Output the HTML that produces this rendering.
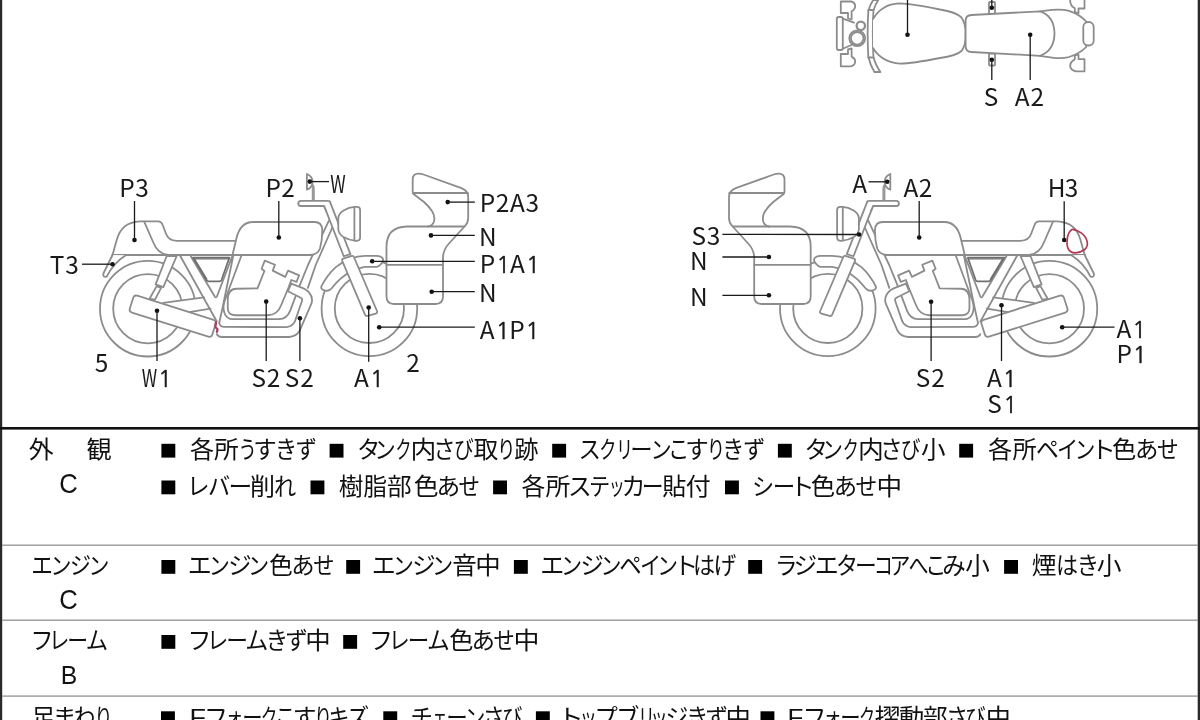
<!DOCTYPE html>
<html lang="ja"><head><meta charset="utf-8"><title>車両状態図</title>
<style>
html,body{margin:0;padding:0;background:#fff;width:1200px;height:720px;overflow:hidden}
svg{position:absolute;left:0;top:0;display:block}
.tbl,.lbl{filter:grayscale(1)}
.tbl text{font-family:"Liberation Sans","Noto Sans CJK JP",sans-serif;font-size:24px;fill:#111}
.lbl text{font-family:"Noto Sans CJK JP","Liberation Sans",sans-serif;font-size:24.4px;fill:#1a1a1a}
.lbl .one{font-family:"NanumGothic","Liberation Sans",sans-serif;font-size:23.2px;stroke:#1a1a1a;stroke-width:.45px}
</style></head><body>
<svg width="1200" height="720" viewBox="0 0 1200 720">
<rect width="1200" height="720" fill="#fff"/>
<!-- sheet borders and table rules -->
<rect x="0" y="0" width="2.2" height="720" fill="#2a2a2a"/>
<rect x="1197.7" y="0" width="2.3" height="720" fill="#2a2a2a"/>
<rect x="0" y="427" width="1200" height="2.6" fill="#111"/>
<rect x="2" y="544.5" width="1196" height="1.4" fill="#9a9a9a"/>
<rect x="2" y="619.5" width="1196" height="1.4" fill="#9a9a9a"/>
<rect x="2" y="695.4" width="1196" height="1.4" fill="#9a9a9a"/>
<!-- vehicle diagrams -->
<g fill="none" stroke="#8c8c8c" stroke-width="1.8" stroke-linejoin="round" stroke-linecap="round">
<circle cx="147.8" cy="308.7" r="47.8"/><circle cx="147.8" cy="308.7" r="34.6"/>
<circle cx="369.4" cy="308.4" r="47.8"/><circle cx="369.4" cy="308.4" r="34.6"/>
<path fill="#fff" stroke="none" d="M163.3,302.9 L204,297.3 L218,322 L163.3,304.5 Z"/>
<path d="M163.3,302.9 L204,297.3 M189.2,312.1 L210.5,308.7"/>
<path fill="#fff" d="M156.7,286.1 L161.1,287.8 L155,299.6 L149.4,299 Z"/>
<path fill="#fff" d="M166.7,256 L176.7,256 L163.3,287.2 L155.6,284.4 Z"/>
<rect fill="#fff" x="0" y="0" width="86.5" height="17.7" rx="3.2" transform="translate(134.2,294.7) rotate(17.55)"/>
<path d="M241.25,256 L224.6,301 Q222.5,308 224.5,313 Q226.5,319.2 233,319.2 L279,319.2 Q287,318.7 290.1,310.8 L295.5,296.6"/>
<path fill="#fff" stroke="none" d="M219.2,323.3 Q220.5,326.9 224,326.9 L286.6,327.1 Q292.5,326.5 294.9,321.4 L301.9,301.3 Q302.8,298.6 300.8,297.8 L287.8,291.3 L291.3,283.6 L303.5,288.4 Q306.5,289.6 308.8,292.2 Q313.5,297.5 311.4,303.7 L299.6,330.8 Q296.5,336.5 289,337 L222,337 Q218,337 216.9,334.2 Z"/>
<path d="M219.2,323.3 Q220.5,326.9 224,326.9 L286.6,327.1 Q292.5,326.5 294.9,321.4 L301.9,301.3 Q302.8,298.6 300.8,297.8 L287.8,291.3"/><path d="M216.9,334.2 Q218,337 222,337 L289,337 Q296.5,336.5 299.6,330.8 L311.4,303.7 Q313.5,297.5 308.8,292.2 Q306.5,289.6 303.5,288.4 L291.3,283.6"/><path d="M291.3,283.6 L287.8,291.3"/>
<path d="M227.75,300 Q227.75,289 236.25,288.75 L257.5,288.4 L264.4,271 L261.6,268.75 L264.75,260.6 L275,264.75 L272.75,270.6 L285.25,276.9 L288.1,270.6 L299.1,275.4 L296.5,281.9 L291.25,280 L288.5,287.5 L281.25,305 Q277.5,315 268,315.25 L235,315.25 Q227.75,315 227.75,308 Z"/>
<path d="M180,255.5 L216.8,321.5 M190.8,256.3 L214.6,296.3 Q215.8,298.6 217,296.3 L232.5,255.5 M233.3,255.5 L222.5,308 L219.3,322.5"/>
<path stroke="#707070" stroke-width="1.7" d="M193,257.6 L229.4,257.6 L221.5,280 Q221,281.3 219.5,281.3 L208.5,281.3 Q207.2,281.3 206.5,280 Z"/>
<path stroke="#707070" stroke-width="1.3" d="M194.5,258.9 L228,258.9 M194.6,259.2 L206.8,279"/>
<path d="M328.9,220.6 L308,265 L299.6,285.6 M333,226 L315.7,265 L307.9,287.9"/>
<path d="M112.5,255 L312,255"/>
<path fill="#fff" d="M232.5,255 L236.5,238 Q240.5,222 253,222 L314.5,222 Q322,222 322.3,230 Q322.3,240 320,248.5 Q317.5,255 309,255 Z"/>
<path d="M112.5,255 L116.7,240 Q121.5,222 140,221.3 L158.3,221.3 Q161.6,221.5 162.7,225 L165.8,233.3 Q168.3,240.8 176.7,240.8 L235.6,240.8"/>
<path d="M144.2,221.7 L153.3,242.5 Q157.5,253.5 168,255"/>
<path fill="#fff" d="M112.5,255 L103.4,273.5 Q102.6,277.6 106.7,276.7 Q113.5,263 125.8,255.3"/>
<path fill="#fff" d="M321.25,286.7 Q327,275 335.8,267.1 Q350,256 365,255.8 L376.7,255.8 Q381,256 382.7,258.2 Q384,261 381,264 Q379,266.6 376.7,266.8 L365,266.8 Q352,268.5 340,279.2 Q335,284 331.7,288.3 Q329.5,291.3 325.5,290.6 Q320.5,289.5 321.25,286.7 Z"/>
<path fill="#fff" d="M324.4,206.7 L343.75,256.25 L350.4,254.2 L329.8,201.4 Z"/>
<path fill="#fff" d="M329.8,201.4 Q329,200.8 327,200.8 L301,200.8 Q298.3,200.8 298.3,203.4 Q298.3,206 301,206 L324.2,206 L326,210.5"/>
<path stroke="#999" stroke-width="3" stroke-linecap="butt" d="M313.3,200.3 L313.3,188 Q313.2,186 311.8,185"/>
<path d="M306.9,174 Q312.6,176.5 312.6,182 Q312.4,187.8 306.9,189.6 Z"/>
<path fill="#fff" d="M343.2,258.7 L351.8,255.9 Q353.3,255.5 353.9,257 L377,311 Q377.8,313 375.8,313.6 L367.6,315.9 Q365.8,316.4 365,314.6 L342.2,260.8 Q341.6,259.3 343.2,258.7 Z"/>
<path fill="#fff" d="M338.3,218 Q338.8,213.5 343.5,210.5 Q349,207.2 354.6,206.9 L357,206.8 Q360.1,206.8 360.1,209.9 L360.1,237.6 Q360.1,240.8 357,240.8 L354.6,240.6 Q349,240.2 343.5,237 Q338.8,234 338.3,229.5 Z"/>
<path d="M354.4,206.9 L354.4,240.6"/>
<path fill="#fff" d="M412.7,179.5 Q412.7,173.6 418.5,173.6 Q421,173.6 423.5,174.5 L461.5,188.2 Q468.2,190.8 468.2,197 L468.2,218 Q468.2,222.5 465,226 L449,243.5 Q443,250 443,258 L443,296.5 Q443,304 435.5,304 L394,304 Q386.5,304 386.5,296.5 L386.5,246.5 Q386.5,227 407,226.5 L428,226.5 Q432.5,226 434,221.5 Q435.3,216 432,211 Q429,206.5 424,202 L413.5,194 Q412.7,193 412.7,191 Z"/>
<path d="M413,193 L468,193 M428,226.5 L464.5,226.5 M386.5,264.8 L443,264.8"/>
</g>
<g fill="none" stroke="#8c8c8c" stroke-width="1.8" stroke-linejoin="round" stroke-linecap="round" transform="translate(1197.2,0) scale(-1,1)">
<circle cx="147.8" cy="308.7" r="47.8"/><circle cx="147.8" cy="308.7" r="34.6"/>
<circle cx="369.4" cy="308.4" r="47.8"/><circle cx="369.4" cy="308.4" r="34.6"/>
<path fill="#fff" stroke="none" d="M163.3,302.9 L204,297.3 L218,322 L163.3,304.5 Z"/>
<path d="M163.3,302.9 L204,297.3 M189.2,312.1 L210.5,308.7"/>
<path fill="#fff" d="M156.7,286.1 L161.1,287.8 L155,299.6 L149.4,299 Z"/>
<path fill="#fff" d="M166.7,256 L176.7,256 L163.3,287.2 L155.6,284.4 Z"/>
<rect fill="#fff" x="0" y="0" width="86.5" height="17.7" rx="3.2" transform="translate(134.2,294.7) rotate(17.55)"/>
<path d="M241.25,256 L224.6,301 Q222.5,308 224.5,313 Q226.5,319.2 233,319.2 L279,319.2 Q287,318.7 290.1,310.8 L295.5,296.6"/>
<path fill="#fff" stroke="none" d="M219.2,323.3 Q220.5,326.9 224,326.9 L286.6,327.1 Q292.5,326.5 294.9,321.4 L301.9,301.3 Q302.8,298.6 300.8,297.8 L287.8,291.3 L291.3,283.6 L303.5,288.4 Q306.5,289.6 308.8,292.2 Q313.5,297.5 311.4,303.7 L299.6,330.8 Q296.5,336.5 289,337 L222,337 Q218,337 216.9,334.2 Z"/>
<path d="M219.2,323.3 Q220.5,326.9 224,326.9 L286.6,327.1 Q292.5,326.5 294.9,321.4 L301.9,301.3 Q302.8,298.6 300.8,297.8 L287.8,291.3"/><path d="M216.9,334.2 Q218,337 222,337 L289,337 Q296.5,336.5 299.6,330.8 L311.4,303.7 Q313.5,297.5 308.8,292.2 Q306.5,289.6 303.5,288.4 L291.3,283.6"/><path d="M291.3,283.6 L287.8,291.3"/>
<path d="M227.75,300 Q227.75,289 236.25,288.75 L257.5,288.4 L264.4,271 L261.6,268.75 L264.75,260.6 L275,264.75 L272.75,270.6 L285.25,276.9 L288.1,270.6 L299.1,275.4 L296.5,281.9 L291.25,280 L288.5,287.5 L281.25,305 Q277.5,315 268,315.25 L235,315.25 Q227.75,315 227.75,308 Z"/>
<path d="M180,255.5 L216.8,321.5 M190.8,256.3 L214.6,296.3 Q215.8,298.6 217,296.3 L232.5,255.5 M233.3,255.5 L222.5,308 L219.3,322.5"/>
<path stroke="#707070" stroke-width="1.7" d="M193,257.6 L229.4,257.6 L221.5,280 Q221,281.3 219.5,281.3 L208.5,281.3 Q207.2,281.3 206.5,280 Z"/>
<path stroke="#707070" stroke-width="1.3" d="M194.5,258.9 L228,258.9 M194.6,259.2 L206.8,279"/>
<path d="M328.9,220.6 L308,265 L299.6,285.6 M333,226 L315.7,265 L307.9,287.9"/>
<path d="M112.5,255 L312,255"/>
<path fill="#fff" d="M232.5,255 L236.5,238 Q240.5,222 253,222 L314.5,222 Q322,222 322.3,230 Q322.3,240 320,248.5 Q317.5,255 309,255 Z"/>
<path d="M112.5,255 L116.7,240 Q121.5,222 140,221.3 L158.3,221.3 Q161.6,221.5 162.7,225 L165.8,233.3 Q168.3,240.8 176.7,240.8 L235.6,240.8"/>
<path d="M144.2,221.7 L153.3,242.5 Q157.5,253.5 168,255"/>
<path fill="#fff" d="M112.5,255 L103.4,273.5 Q102.6,277.6 106.7,276.7 Q113.5,263 125.8,255.3"/>
<path fill="#fff" d="M321.25,286.7 Q327,275 335.8,267.1 Q350,256 365,255.8 L376.7,255.8 Q381,256 382.7,258.2 Q384,261 381,264 Q379,266.6 376.7,266.8 L365,266.8 Q352,268.5 340,279.2 Q335,284 331.7,288.3 Q329.5,291.3 325.5,290.6 Q320.5,289.5 321.25,286.7 Z"/>
<path fill="#fff" d="M324.4,206.7 L343.75,256.25 L350.4,254.2 L329.8,201.4 Z"/>
<path fill="#fff" d="M329.8,201.4 Q329,200.8 327,200.8 L301,200.8 Q298.3,200.8 298.3,203.4 Q298.3,206 301,206 L324.2,206 L326,210.5"/>
<path stroke="#999" stroke-width="3" stroke-linecap="butt" d="M313.3,200.3 L313.3,188 Q313.2,186 311.8,185"/>
<path d="M306.9,174 Q312.6,176.5 312.6,182 Q312.4,187.8 306.9,189.6 Z"/>
<path fill="#fff" d="M343.2,258.7 L351.8,255.9 Q353.3,255.5 353.9,257 L377,311 Q377.8,313 375.8,313.6 L367.6,315.9 Q365.8,316.4 365,314.6 L342.2,260.8 Q341.6,259.3 343.2,258.7 Z"/>
<path fill="#fff" d="M338.3,218 Q338.8,213.5 343.5,210.5 Q349,207.2 354.6,206.9 L357,206.8 Q360.1,206.8 360.1,209.9 L360.1,237.6 Q360.1,240.8 357,240.8 L354.6,240.6 Q349,240.2 343.5,237 Q338.8,234 338.3,229.5 Z"/>
<path d="M354.4,206.9 L354.4,240.6"/>
<path fill="#fff" d="M412.7,179.5 Q412.7,173.6 418.5,173.6 Q421,173.6 423.5,174.5 L461.5,188.2 Q468.2,190.8 468.2,197 L468.2,218 Q468.2,222.5 465,226 L449,243.5 Q443,250 443,258 L443,296.5 Q443,304 435.5,304 L394,304 Q386.5,304 386.5,296.5 L386.5,246.5 Q386.5,227 407,226.5 L428,226.5 Q432.5,226 434,221.5 Q435.3,216 432,211 Q429,206.5 424,202 L413.5,194 Q412.7,193 412.7,191 Z"/>
<path d="M413,193 L468,193 M428,226.5 L464.5,226.5 M386.5,264.8 L443,264.8"/>
</g>
<g fill="none" stroke="#8c8c8c" stroke-width="1.8" stroke-linejoin="round" stroke-linecap="round">
<path fill="#fff" d="M840.8,13 L840.8,1.5 L851,1.5 Q855.3,2.5 855.2,6.5 Q855,9.5 851.6,11.2 L851.6,19.5 L848,18.5 L848,13 Z"/>
<path fill="#fff" d="M840.8,54 L840.8,66.3 L851,66.3 Q855.3,65.3 855.2,61.3 Q855,58.3 851.6,56.6 L851.6,48.3 L848,49.3 L848,54 Z"/>
<rect fill="#fff" x="836.8" y="17" width="6" height="33" rx="2"/>
<path d="M842.8,18.6 L854,22.6 M842.8,48.8 L851.5,45"/>
<circle fill="#fff" cx="860.8" cy="25.8" r="4.2" stroke-width="2.2"/>
<circle fill="#fff" cx="857.2" cy="38.3" r="7.9"/><circle cx="857.2" cy="38.3" r="6.3"/>
<path fill="#fff" d="M873.2,0 Q869.6,5.5 868.3,11 Q867,34 868.3,56.5 Q869.8,64 874.4,72 L880.4,72 Q875,64 873.4,56.5 Q872.2,34 873.4,11 Q874.6,5.5 878.3,0 Z"/>
<path d="M868.2,10 L873.3,10 M868.2,57.5 L873.3,57.5"/>
<path fill="#fff" d="M873,19 Q882,4 899,3.3 Q912,3.5 940,9.5 Q956,12 961.5,17.5 Q966,24 965.6,34.5 Q966,45 961.5,51 Q956,56 940,58 Q912,63.5 900,63.6 Q882,62.5 873,48"/>
<path fill="#fff" d="M1040,11.3 L1052,9.9 Q1062,8.9 1069,10.8 Q1080,14.5 1086.2,21.5 L1086.2,47 Q1080,53.5 1069,57 Q1062,59 1052,57.6 L1040,55.8"/>
<path fill="#fff" d="M1084.5,0 L1084.5,8.5 L1078.5,8.5 L1078.5,13.2 L1074.8,12 L1074.8,8.3 Q1069.8,5.5 1070.2,0"/>
<path fill="#fff" d="M1084.5,71.3 L1084.5,59.2 L1078.5,59.2 L1078.5,54.5 L1074.8,55.7 L1074.8,59.4 Q1069.8,62.2 1070.2,66.5 Q1071,70.3 1076,71.3 Z"/>
<rect fill="#fff" x="989" y="2" width="6" height="12.5" rx="0.8"/><rect fill="#fff" x="989" y="53.5" width="6" height="12" rx="0.8"/>
<path fill="#fff" d="M965.6,21 Q965.6,15.2 971.5,15 L1040,11.3 Q1054.3,16 1054.5,33.5 Q1054.3,50.5 1040,55.8 L971.5,52 Q965.6,52 965.6,46 Z"/>
<rect fill="#fff" x="1083.3" y="22" width="10.4" height="23.5" rx="5"/>
</g>
<g fill="none" stroke="#1a1a1a" stroke-width="1.3">
<circle cx="134.5" cy="240" r="2.3" fill="#111" stroke="none"/>
<path d="M134.5,240 L134.5,201"/>
<circle cx="278.8" cy="237.5" r="2.3" fill="#111" stroke="none"/>
<path d="M278.8,237.5 L278.8,201"/>
<circle cx="112.5" cy="264.2" r="2.3" fill="#111" stroke="none"/>
<path d="M112.5,264.2 L82,264.2"/>
<circle cx="157" cy="310.8" r="2.3" fill="#111" stroke="none"/>
<path d="M157,310.8 L157,361"/>
<circle cx="266.2" cy="301.6" r="2.3" fill="#111" stroke="none"/>
<path d="M266.2,301.6 L266.2,361"/>
<circle cx="299.9" cy="318.2" r="2.3" fill="#111" stroke="none"/>
<path d="M299.9,318.2 L299.9,361"/>
<circle cx="368.7" cy="307.5" r="2.3" fill="#111" stroke="none"/>
<path d="M368.7,307.5 L368.7,361.7"/>
<circle cx="379.2" cy="327.2" r="2.3" fill="#111" stroke="none"/>
<path d="M379.2,327.2 L474.8,327.2"/>
<circle cx="447.7" cy="202.1" r="2.3" fill="#111" stroke="none"/>
<path d="M447.7,202.1 L474.8,202.1"/>
<circle cx="431" cy="235.4" r="2.3" fill="#111" stroke="none"/>
<path d="M431,235.4 L474.8,235.4"/>
<circle cx="372.2" cy="261.3" r="2.3" fill="#111" stroke="none"/>
<path d="M372.2,261.3 L474.8,261.3"/>
<circle cx="431.7" cy="291.7" r="2.3" fill="#111" stroke="none"/>
<path d="M431.7,291.7 L474.8,291.7"/>
<circle cx="309.8" cy="181.6" r="2.3" fill="#111" stroke="none"/>
<path d="M309.8,181.6 L329,181.6"/>
<circle cx="887.2" cy="181.8" r="2.3" fill="#111" stroke="none"/>
<path d="M887.2,181.8 L868.5,181.8"/>
<circle cx="919.2" cy="237.5" r="2.3" fill="#111" stroke="none"/>
<path d="M919.2,237.5 L919.2,201"/>
<circle cx="859" cy="234.5" r="2.3" fill="#111" stroke="none"/>
<path d="M859,234.5 L722.4,234.4"/>
<circle cx="768.9" cy="257" r="2.3" fill="#111" stroke="none"/>
<path d="M768.9,257 L722.4,257"/>
<circle cx="768.9" cy="295.3" r="2.3" fill="#111" stroke="none"/>
<path d="M768.9,295.3 L722.4,295.3"/>
<circle cx="931.1" cy="301.7" r="2.3" fill="#111" stroke="none"/>
<path d="M931.1,301.7 L931.1,361"/>
<circle cx="1001.5" cy="305.2" r="2.3" fill="#111" stroke="none"/>
<path d="M1001.5,305.2 L1001.5,361"/>
<circle cx="1064.2" cy="240" r="2.3" fill="#111" stroke="none"/>
<path d="M1064.2,240 L1064.2,201.3"/>
<circle cx="1062.2" cy="327.2" r="2.3" fill="#111" stroke="none"/>
<path d="M1062.2,327.2 L1114.5,327.2"/>
<circle cx="907.5" cy="34.8" r="2.3" fill="#111" stroke="none"/>
<path d="M907.5,34.8 L907.5,0"/>
<circle cx="991.8" cy="7.8" r="2.3" fill="#111" stroke="none"/>
<path d="M991.8,7.8 L991.8,0"/>
<circle cx="991.8" cy="59.7" r="2.3" fill="#111" stroke="none"/>
<path d="M991.8,59.7 L991.8,80"/>
<circle cx="1030.2" cy="34.8" r="2.3" fill="#111" stroke="none"/>
<path d="M1030.2,34.8 L1030.2,80"/>
</g>
<path d="M216,322.3 L215.4,326 Q215.3,327.8 217,328.6 Q218,329.3 217.3,330.6 L216.9,331.8" fill="none" stroke="#ad3f5e" stroke-width="2.3" stroke-linecap="round" stroke-linejoin="round"/>
<path d="M1071.7,229.7 C1069,232 1067.5,235 1067.3,239 C1066.6,243.5 1067,247 1068.8,249.8 C1070.5,252.3 1073,253 1075.5,252.8 C1079,252.6 1082.5,251.2 1084.8,249.5 C1087,247.5 1087.8,245 1087.2,242 C1086.5,238.5 1084.5,235.5 1081.5,233.2 C1078.5,231 1075.5,229.5 1072.5,229.3" fill="none" stroke="#b03a50" stroke-width="1.7" stroke-linecap="round"/>
<g class="lbl" text-anchor="middle">
<text y="197.3"><tspan x="127.0">P</tspan><tspan x="141.9">3</tspan></text>
<text y="197"><tspan x="273.2">P</tspan><tspan x="288.1">2</tspan></text>
<text y="193"><tspan x="330.3" textLength="15.4" lengthAdjust="spacingAndGlyphs" text-anchor="start">W</tspan></text>
<text y="274.2"><tspan x="57.0">T</tspan><tspan x="71.9">3</tspan></text>
<text y="211.7"><tspan x="487.6">P</tspan><tspan x="502.5">2</tspan><tspan x="517.4">A</tspan><tspan x="532.3">3</tspan></text>
<text y="245.5"><tspan x="487.9">N</tspan></text>
<text y="272.5"><tspan x="487.6">P</tspan><tspan class="one" x="503.2">1</tspan><tspan x="517.4">A</tspan><tspan class="one" x="533.0">1</tspan></text>
<text y="302"><tspan x="487.9">N</tspan></text>
<text y="338.5"><tspan x="487.1">A</tspan><tspan class="one" x="502.7">1</tspan><tspan x="516.9">P</tspan><tspan class="one" x="532.5">1</tspan></text>
<text y="372"><tspan x="101.6">5</tspan></text>
<text y="387"><tspan x="141.8" textLength="15.4" lengthAdjust="spacingAndGlyphs" text-anchor="start">W</tspan><tspan class="one" x="165.1">1</tspan></text>
<text y="387"><tspan x="258.8">S</tspan><tspan x="273.6">2</tspan></text>
<text y="387"><tspan x="292.0">S</tspan><tspan x="306.9">2</tspan></text>
<text y="387"><tspan x="361.5">A</tspan><tspan class="one" x="377.1">1</tspan></text>
<text y="372"><tspan x="413.1">2</tspan></text>
<text y="193.2"><tspan x="859.6">A</tspan></text>
<text y="197.2"><tspan x="910.8">A</tspan><tspan x="925.6">2</tspan></text>
<text y="244.9"><tspan x="698.8">S</tspan><tspan x="713.6">3</tspan></text>
<text y="269.9"><tspan x="698.9">N</tspan></text>
<text y="305.6"><tspan x="698.9">N</tspan></text>
<text y="387.2"><tspan x="923.0">S</tspan><tspan x="937.9">2</tspan></text>
<text y="387.2"><tspan x="994.3">A</tspan><tspan class="one" x="1009.9">1</tspan></text>
<text y="412.9"><tspan x="994.6">S</tspan><tspan class="one" x="1010.2">1</tspan></text>
<text y="196.7"><tspan x="1056.7">H</tspan><tspan x="1071.6">3</tspan></text>
<text y="337.5"><tspan x="1123.8">A</tspan><tspan class="one" x="1139.4">1</tspan></text>
<text y="362.8"><tspan x="1124.2">P</tspan><tspan class="one" x="1139.8">1</tspan></text>
<text y="106.3"><tspan x="990.9">S</tspan></text>
<text y="106.3"><tspan x="1022.2">A</tspan><tspan x="1037.2">2</tspan></text>
</g>

<!-- condition table -->
<g class="tbl">
<rect x="161.4" y="443.8" width="13.9" height="13.8" fill="#000"/>
<rect x="329.6" y="443.8" width="13.9" height="13.8" fill="#000"/>
<rect x="552.2" y="443.8" width="13.9" height="13.8" fill="#000"/>
<rect x="777.9" y="443.8" width="13.9" height="13.8" fill="#000"/>
<rect x="959.2" y="443.8" width="13.9" height="13.8" fill="#000"/>
<text y="458"><tspan x="190.0" textLength="24.11" lengthAdjust="spacingAndGlyphs">各</tspan><tspan x="213.98" textLength="24.85" lengthAdjust="spacingAndGlyphs">所</tspan><tspan x="238.28" textLength="18.58" lengthAdjust="spacingAndGlyphs">う</tspan><tspan x="253.15" textLength="23.52" lengthAdjust="spacingAndGlyphs">す</tspan><tspan x="274.72" textLength="22.58" lengthAdjust="spacingAndGlyphs">き</tspan><tspan x="295.69" textLength="21.12" lengthAdjust="spacingAndGlyphs">ず</tspan></text>
<text y="458"><tspan x="357.06" textLength="23.36" lengthAdjust="spacingAndGlyphs">タ</tspan><tspan x="374.58" textLength="21.21" lengthAdjust="spacingAndGlyphs">ン</tspan><tspan x="395.56" textLength="16.04" lengthAdjust="spacingAndGlyphs">ク</tspan><tspan x="410.43" textLength="25.79" lengthAdjust="spacingAndGlyphs">内</tspan><tspan x="433.26" textLength="22.31" lengthAdjust="spacingAndGlyphs">さ</tspan><tspan x="454.07" textLength="19.72" lengthAdjust="spacingAndGlyphs">び</tspan><tspan x="473.58" textLength="24.84" lengthAdjust="spacingAndGlyphs">取</tspan><tspan x="496.93" textLength="18.55" lengthAdjust="spacingAndGlyphs">り</tspan><tspan x="514.29" textLength="24.21" lengthAdjust="spacingAndGlyphs">跡</tspan></text>
<text y="458"><tspan x="578.56" textLength="22.44" lengthAdjust="spacingAndGlyphs">ス</tspan><tspan x="599.15" textLength="17.2" lengthAdjust="spacingAndGlyphs">ク</tspan><tspan x="615.9" textLength="17.07" lengthAdjust="spacingAndGlyphs">リ</tspan><tspan x="630.26" textLength="22.38" lengthAdjust="spacingAndGlyphs">ー</tspan><tspan x="650.38" textLength="21.21" lengthAdjust="spacingAndGlyphs">ン</tspan><tspan x="668.12" textLength="21.23" lengthAdjust="spacingAndGlyphs">こ</tspan><tspan x="685.35" textLength="23.52" lengthAdjust="spacingAndGlyphs">す</tspan><tspan x="706.67" textLength="18.38" lengthAdjust="spacingAndGlyphs">り</tspan><tspan x="721.95" textLength="22.44" lengthAdjust="spacingAndGlyphs">き</tspan><tspan x="743.23" textLength="22.04" lengthAdjust="spacingAndGlyphs">ず</tspan></text>
<text y="458"><tspan x="804.56" textLength="23.36" lengthAdjust="spacingAndGlyphs">タ</tspan><tspan x="822.16" textLength="20.63" lengthAdjust="spacingAndGlyphs">ン</tspan><tspan x="842.66" textLength="16.04" lengthAdjust="spacingAndGlyphs">ク</tspan><tspan x="857.93" textLength="25.79" lengthAdjust="spacingAndGlyphs">内</tspan><tspan x="880.3" textLength="22.38" lengthAdjust="spacingAndGlyphs">さ</tspan><tspan x="900.77" textLength="19.72" lengthAdjust="spacingAndGlyphs">び</tspan><tspan x="920.98" textLength="24.53" lengthAdjust="spacingAndGlyphs">小</tspan></text>
<text y="458"><tspan x="988.14" textLength="24.26" lengthAdjust="spacingAndGlyphs">各</tspan><tspan x="1012.4" textLength="24.21" lengthAdjust="spacingAndGlyphs">所</tspan><tspan x="1035.96" textLength="22.88" lengthAdjust="spacingAndGlyphs">ペ</tspan><tspan x="1056.98" textLength="21.26" lengthAdjust="spacingAndGlyphs">イ</tspan><tspan x="1074.66" textLength="20.63" lengthAdjust="spacingAndGlyphs">ン</tspan><tspan x="1090.49" textLength="25.43" lengthAdjust="spacingAndGlyphs">ト</tspan><tspan x="1112.09" textLength="24.32" lengthAdjust="spacingAndGlyphs">色</tspan><tspan x="1134.96" textLength="23.44" lengthAdjust="spacingAndGlyphs">あ</tspan><tspan x="1156.99" textLength="21.74" lengthAdjust="spacingAndGlyphs">せ</tspan></text>
<rect x="161.4" y="480.5" width="13.9" height="13.8" fill="#000"/>
<rect x="310.5" y="480.5" width="13.9" height="13.8" fill="#000"/>
<rect x="493.1" y="480.5" width="13.9" height="13.8" fill="#000"/>
<rect x="725.0" y="480.5" width="13.9" height="13.8" fill="#000"/>
<text y="494.7"><tspan x="187.02" textLength="22.55" lengthAdjust="spacingAndGlyphs">レ</tspan><tspan x="208.11" textLength="22.22" lengthAdjust="spacingAndGlyphs">バ</tspan><tspan x="228.62" textLength="23.75" lengthAdjust="spacingAndGlyphs">ー</tspan><tspan x="250.04" textLength="25.05" lengthAdjust="spacingAndGlyphs">削</tspan><tspan x="273.89" textLength="22.16" lengthAdjust="spacingAndGlyphs">れ</tspan></text>
<text y="494.7"><tspan x="338.78" textLength="24.64" lengthAdjust="spacingAndGlyphs">樹</tspan><tspan x="363.41" textLength="23.57" lengthAdjust="spacingAndGlyphs">脂</tspan><tspan x="386.97" textLength="24.71" lengthAdjust="spacingAndGlyphs">部</tspan><tspan x="413.67" textLength="24.86" lengthAdjust="spacingAndGlyphs">色</tspan><tspan x="436.43" textLength="23.75" lengthAdjust="spacingAndGlyphs">あ</tspan><tspan x="458.6" textLength="21.51" lengthAdjust="spacingAndGlyphs">せ</tspan></text>
<text y="494.7"><tspan x="521.41" textLength="23.79" lengthAdjust="spacingAndGlyphs">各</tspan><tspan x="545.48" textLength="24.85" lengthAdjust="spacingAndGlyphs">所</tspan><tspan x="568.12" textLength="23.75" lengthAdjust="spacingAndGlyphs">ス</tspan><tspan x="589.06" textLength="21.21" lengthAdjust="spacingAndGlyphs">テ</tspan><tspan x="608.7" textLength="16.02" lengthAdjust="spacingAndGlyphs">ッ</tspan><tspan x="621.4" textLength="24.0" lengthAdjust="spacingAndGlyphs">カ</tspan><tspan x="641.81" textLength="21.88" lengthAdjust="spacingAndGlyphs">ー</tspan><tspan x="662.3" textLength="24.11" lengthAdjust="spacingAndGlyphs">貼</tspan><tspan x="685.67" textLength="24.98" lengthAdjust="spacingAndGlyphs">付</tspan></text>
<text y="494.7"><tspan x="751.99" textLength="22.15" lengthAdjust="spacingAndGlyphs">シ</tspan><tspan x="772.75" textLength="22.5" lengthAdjust="spacingAndGlyphs">ー</tspan><tspan x="789.47" textLength="25.33" lengthAdjust="spacingAndGlyphs">ト</tspan><tspan x="810.89" textLength="24.43" lengthAdjust="spacingAndGlyphs">色</tspan><tspan x="833.77" textLength="23.38" lengthAdjust="spacingAndGlyphs">あ</tspan><tspan x="855.59" textLength="21.74" lengthAdjust="spacingAndGlyphs">せ</tspan><tspan x="876.55" textLength="25.61" lengthAdjust="spacingAndGlyphs">中</tspan></text>
<rect x="161.4" y="560.0" width="13.9" height="13.8" fill="#000"/>
<rect x="346.2" y="560.0" width="13.9" height="13.8" fill="#000"/>
<rect x="513.9" y="560.0" width="13.9" height="13.8" fill="#000"/>
<rect x="748.2" y="560.0" width="13.9" height="13.8" fill="#000"/>
<rect x="1004.1" y="560.0" width="13.9" height="13.8" fill="#000"/>
<text y="574.2"><tspan x="187.7" textLength="24.0" lengthAdjust="spacingAndGlyphs">エ</tspan><tspan x="208.8" textLength="21.08" lengthAdjust="spacingAndGlyphs">ン</tspan><tspan x="228.15" textLength="23.41" lengthAdjust="spacingAndGlyphs">ジ</tspan><tspan x="248.08" textLength="21.21" lengthAdjust="spacingAndGlyphs">ン</tspan><tspan x="268.91" textLength="23.78" lengthAdjust="spacingAndGlyphs">色</tspan><tspan x="291.37" textLength="23.38" lengthAdjust="spacingAndGlyphs">あ</tspan><tspan x="313.31" textLength="21.28" lengthAdjust="spacingAndGlyphs">せ</tspan></text>
<text y="574.2"><tspan x="371.7" textLength="24.0" lengthAdjust="spacingAndGlyphs">エ</tspan><tspan x="392.8" textLength="21.08" lengthAdjust="spacingAndGlyphs">ン</tspan><tspan x="412.15" textLength="23.41" lengthAdjust="spacingAndGlyphs">ジ</tspan><tspan x="432.08" textLength="21.21" lengthAdjust="spacingAndGlyphs">ン</tspan><tspan x="452.37" textLength="24.56" lengthAdjust="spacingAndGlyphs">音</tspan><tspan x="475.26" textLength="25.48" lengthAdjust="spacingAndGlyphs">中</tspan></text>
<text y="574.2"><tspan x="540.3" textLength="24.0" lengthAdjust="spacingAndGlyphs">エ</tspan><tspan x="561.1" textLength="21.08" lengthAdjust="spacingAndGlyphs">ン</tspan><tspan x="580.45" textLength="23.41" lengthAdjust="spacingAndGlyphs">ジ</tspan><tspan x="600.42" textLength="20.95" lengthAdjust="spacingAndGlyphs">ン</tspan><tspan x="619.18" textLength="22.43" lengthAdjust="spacingAndGlyphs">ペ</tspan><tspan x="640.03" textLength="21.19" lengthAdjust="spacingAndGlyphs">イ</tspan><tspan x="657.35" textLength="20.7" lengthAdjust="spacingAndGlyphs">ン</tspan><tspan x="673.45" textLength="24.76" lengthAdjust="spacingAndGlyphs">ト</tspan><tspan x="693.01" textLength="22.09" lengthAdjust="spacingAndGlyphs">は</tspan><tspan x="713.62" textLength="22.86" lengthAdjust="spacingAndGlyphs">げ</tspan></text>
<text y="574.2"><tspan x="774.9" textLength="22.52" lengthAdjust="spacingAndGlyphs">ラ</tspan><tspan x="793.85" textLength="23.41" lengthAdjust="spacingAndGlyphs">ジ</tspan><tspan x="814.7" textLength="24.0" lengthAdjust="spacingAndGlyphs">エ</tspan><tspan x="835.98" textLength="22.09" lengthAdjust="spacingAndGlyphs">タ</tspan><tspan x="855.12" textLength="21.75" lengthAdjust="spacingAndGlyphs">ー</tspan><tspan x="873.66" textLength="19.23" lengthAdjust="spacingAndGlyphs">コ</tspan><tspan x="889.47" textLength="20.92" lengthAdjust="spacingAndGlyphs">ア</tspan><tspan x="908.62" textLength="20.0" lengthAdjust="spacingAndGlyphs">へ</tspan><tspan x="925.31" textLength="21.0" lengthAdjust="spacingAndGlyphs">こ</tspan><tspan x="942.33" textLength="23.55" lengthAdjust="spacingAndGlyphs">み</tspan><tspan x="965.28" textLength="24.53" lengthAdjust="spacingAndGlyphs">小</tspan></text>
<text y="574.2"><tspan x="1031.67" textLength="24.75" lengthAdjust="spacingAndGlyphs">煙</tspan><tspan x="1056.01" textLength="22.09" lengthAdjust="spacingAndGlyphs">は</tspan><tspan x="1076.4" textLength="22.72" lengthAdjust="spacingAndGlyphs">き</tspan><tspan x="1096.78" textLength="24.74" lengthAdjust="spacingAndGlyphs">小</tspan></text>
<rect x="161.4" y="635.0" width="13.9" height="13.8" fill="#000"/>
<rect x="343.2" y="635.0" width="13.9" height="13.8" fill="#000"/>
<text y="649.2"><tspan x="187.6" textLength="24.0" lengthAdjust="spacingAndGlyphs">フ</tspan><tspan x="207.01" textLength="21.24" lengthAdjust="spacingAndGlyphs">レ</tspan><tspan x="226.13" textLength="21.75" lengthAdjust="spacingAndGlyphs">ー</tspan><tspan x="245.37" textLength="23.08" lengthAdjust="spacingAndGlyphs">ム</tspan><tspan x="265.4" textLength="22.72" lengthAdjust="spacingAndGlyphs">き</tspan><tspan x="285.52" textLength="22.27" lengthAdjust="spacingAndGlyphs">ず</tspan><tspan x="305.26" textLength="25.48" lengthAdjust="spacingAndGlyphs">中</tspan></text>
<text y="649.2"><tspan x="369.1" textLength="24.0" lengthAdjust="spacingAndGlyphs">フ</tspan><tspan x="388.77" textLength="20.95" lengthAdjust="spacingAndGlyphs">レ</tspan><tspan x="407.85" textLength="21.5" lengthAdjust="spacingAndGlyphs">ー</tspan><tspan x="426.98" textLength="22.85" lengthAdjust="spacingAndGlyphs">ム</tspan><tspan x="449.19" textLength="24.22" lengthAdjust="spacingAndGlyphs">色</tspan><tspan x="471.45" textLength="23.5" lengthAdjust="spacingAndGlyphs">あ</tspan><tspan x="493.51" textLength="21.28" lengthAdjust="spacingAndGlyphs">せ</tspan><tspan x="513.51" textLength="25.98" lengthAdjust="spacingAndGlyphs">中</tspan></text>
<rect x="161.0" y="711.3" width="13.9" height="13.8" fill="#000"/>
<rect x="383.3" y="711.3" width="13.9" height="13.8" fill="#000"/>
<rect x="535.9" y="711.3" width="13.9" height="13.8" fill="#000"/>
<rect x="760.5" y="711.3" width="13.9" height="13.8" fill="#000"/>
<text y="725.5"><tspan x="189.56" textLength="16.52" lengthAdjust="spacingAndGlyphs">F</tspan><tspan x="204.1" textLength="24.0" lengthAdjust="spacingAndGlyphs">フ</tspan><tspan x="225.21" textLength="18.07" lengthAdjust="spacingAndGlyphs">ォ</tspan><tspan x="242.16" textLength="20.38" lengthAdjust="spacingAndGlyphs">ー</tspan><tspan x="260.7" textLength="16.68" lengthAdjust="spacingAndGlyphs">ク</tspan><tspan x="274.58" textLength="21.75" lengthAdjust="spacingAndGlyphs">こ</tspan><tspan x="292.72" textLength="23.76" lengthAdjust="spacingAndGlyphs">す</tspan><tspan x="314.01" textLength="18.21" lengthAdjust="spacingAndGlyphs">り</tspan><tspan x="328.61" textLength="20.98" lengthAdjust="spacingAndGlyphs">キ</tspan><tspan x="347.04" textLength="22.29" lengthAdjust="spacingAndGlyphs">ズ</tspan></text>
<text y="725.5"><tspan x="410.55" textLength="22.31" lengthAdjust="spacingAndGlyphs">チ</tspan><tspan x="431.7" textLength="16.24" lengthAdjust="spacingAndGlyphs">ェ</tspan><tspan x="446.15" textLength="21.5" lengthAdjust="spacingAndGlyphs">ー</tspan><tspan x="464.62" textLength="20.95" lengthAdjust="spacingAndGlyphs">ン</tspan><tspan x="482.56" textLength="22.31" lengthAdjust="spacingAndGlyphs">さ</tspan><tspan x="502.25" textLength="20.06" lengthAdjust="spacingAndGlyphs">び</tspan></text>
<text y="725.5"><tspan x="557.33" textLength="26.67" lengthAdjust="spacingAndGlyphs">ト</tspan><tspan x="579.45" textLength="17.44" lengthAdjust="spacingAndGlyphs">ッ</tspan><tspan x="594.49" textLength="23.3" lengthAdjust="spacingAndGlyphs">プ</tspan><tspan x="616.22" textLength="23.04" lengthAdjust="spacingAndGlyphs">ブ</tspan><tspan x="638.04" textLength="16.89" lengthAdjust="spacingAndGlyphs">リ</tspan><tspan x="650.25" textLength="17.44" lengthAdjust="spacingAndGlyphs">ッ</tspan><tspan x="665.41" textLength="22.83" lengthAdjust="spacingAndGlyphs">ジ</tspan><tspan x="685.95" textLength="22.44" lengthAdjust="spacingAndGlyphs">き</tspan><tspan x="705.5" textLength="22.5" lengthAdjust="spacingAndGlyphs">ず</tspan><tspan x="725.57" textLength="25.36" lengthAdjust="spacingAndGlyphs">中</tspan></text>
<text y="725.5"><tspan x="787.64" textLength="15.9" lengthAdjust="spacingAndGlyphs">F</tspan><tspan x="802.6" textLength="24.0" lengthAdjust="spacingAndGlyphs">フ</tspan><tspan x="822.99" textLength="18.8" lengthAdjust="spacingAndGlyphs">ォ</tspan><tspan x="840.16" textLength="20.38" lengthAdjust="spacingAndGlyphs">ー</tspan><tspan x="858.96" textLength="16.04" lengthAdjust="spacingAndGlyphs">ク</tspan><tspan x="874.85" textLength="25.89" lengthAdjust="spacingAndGlyphs">摺</tspan><tspan x="898.94" textLength="25.33" lengthAdjust="spacingAndGlyphs">動</tspan><tspan x="922.97" textLength="24.76" lengthAdjust="spacingAndGlyphs">部</tspan><tspan x="945.84" textLength="22.45" lengthAdjust="spacingAndGlyphs">さ</tspan><tspan x="965.23" textLength="20.28" lengthAdjust="spacingAndGlyphs">び</tspan><tspan x="985.89" textLength="25.11" lengthAdjust="spacingAndGlyphs">中</tspan></text>
<text y="458"><tspan x="28.68" textLength="24.94" lengthAdjust="spacingAndGlyphs">外</tspan><tspan x="86.57" textLength="25.17" lengthAdjust="spacingAndGlyphs">観</tspan></text>
<text y="574.2"><tspan x="31.2" textLength="21.6" lengthAdjust="spacingAndGlyphs">エ</tspan><tspan x="50.62" textLength="20.95" lengthAdjust="spacingAndGlyphs">ン</tspan><tspan x="70.07" textLength="21.07" lengthAdjust="spacingAndGlyphs">ジ</tspan><tspan x="88.62" textLength="20.95" lengthAdjust="spacingAndGlyphs">ン</tspan></text>
<text y="649.2"><tspan x="30.44" textLength="23.03" lengthAdjust="spacingAndGlyphs">フ</tspan><tspan x="49.0" textLength="20.36" lengthAdjust="spacingAndGlyphs">レ</tspan><tspan x="67.31" textLength="20.88" lengthAdjust="spacingAndGlyphs">ー</tspan><tspan x="85.71" textLength="22.38" lengthAdjust="spacingAndGlyphs">ム</tspan></text>
<text y="725.5"><tspan x="31.3" textLength="24.0" lengthAdjust="spacingAndGlyphs">足</tspan><tspan x="52.07" textLength="24.73" lengthAdjust="spacingAndGlyphs">ま</tspan><tspan x="73.83" textLength="21.61" lengthAdjust="spacingAndGlyphs">わ</tspan><tspan x="94.17" textLength="18.38" lengthAdjust="spacingAndGlyphs">り</tspan></text>
<text transform="translate(68.6,492.7) scale(0.95,1)" text-anchor="middle" style="font-size:27px">C</text>
<text transform="translate(68.6,609.2) scale(0.95,1)" text-anchor="middle" style="font-size:27px">C</text>
<text transform="translate(68.9,684.2) scale(0.97,1)" text-anchor="middle" style="font-size:25.5px">B</text>
</g>
</svg>
</body></html>
